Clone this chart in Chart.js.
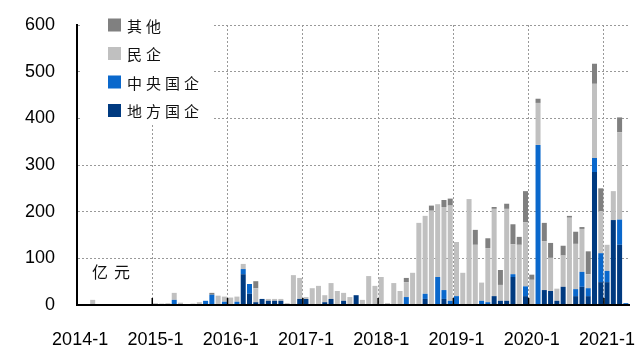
<!DOCTYPE html>
<html>
<head>
<meta charset="utf-8">
<script src="https://cdn.jsdelivr.net/npm/chart.js@4.4.0/dist/chart.umd.min.js"></script>
<style>
    html, body { margin: 0; padding: 0; background: #fff; }
</style>
</head>
<body>
<canvas id="grafica" width="637" height="345"></canvas>
<script>
// Meses: 2014-1 hasta 2021-4
var anios = [2014, 2015, 2016, 2017, 2018, 2019, 2020, 2021];
var mesesUltimoAnio = 4;

// Valores mensuales (亿元)
var difangGuoqi = [
    0, 0, 0, 0, 0, 0, 0, 0, 0, 0, 0, 0,
    0, 0, 0, 0, 0, 0, 0, 2, 0, 0, 0, 0,
    0, 0, 66, 24, 6, 13, 9, 9, 9, 0, 0, 13,
    13, 0, 0, 6, 13, 0, 9, 0, 21, 0, 0, 0,
    2, 0, 0, 0, 0, 0, 0, 13, 2, 2, 13, 0,
    0, 0, 0, 0, 0, 0, 19, 9, 9, 60, 0, 19,
    0, 0, 32, 30, 9, 39, 2, 19, 39, 19, 285, 49,
    49, 182, 129, 0
];
var zhongyangGuoqi = [
    0, 0, 0, 0, 0, 0, 0, 0, 0, 0, 0, 0,
    0, 0, 0, 11, 0, 0, 0, 0, 9, 22, 0, 7,
    0, 7, 11, 21, 0, 0, 0, 0, 0, 0, 0, 0,
    0, 0, 0, 0, 0, 0, 0, 0, 0, 0, 0, 0,
    0, 0, 0, 0, 17, 0, 0, 11, 0, 58, 19, 9,
    19, 0, 0, 0, 9, 6, 0, 0, 0, 6, 0, 21,
    0, 343, 0, 0, 0, 0, 0, 15, 32, 17, 30, 62,
    24, 0, 54, 4
];
var minqi = [
    0, 0, 11, 0, 0, 0, 0, 0, 0, 0, 0, 0,
    0, 3, 0, 15, 5, 0, 3, 4, 0, 0, 20, 11,
    16, 11, 11, 0, 30, 0, 4, 4, 4, 4, 64, 45,
    4, 36, 41, 15, 34, 30, 17, 17, 0, 11, 62, 41,
    58, 4, 47, 30, 32, 69, 176, 167, 200, 156, 178, 204,
    116, 69, 227, 129, 39, 116, 187, 34, 197, 64, 129, 137,
    54, 90, 105, 71, 26, 67, 185, 97, 92, 30, 159, 90,
    56, 62, 187, 0
];
var qita = [
    0, 0, 0, 0, 0, 0, 0, 0, 0, 0, 0, 0,
    3, 0, 3, 0, 0, 0, 0, 0, 0, 4, 0, 0,
    0, 0, 0, 0, 15, 0, 0, 0, 0, 0, 0, 0,
    0, 0, 0, 0, 0, 0, 0, 0, 0, 0, 0, 0,
    0, 0, 0, 0, 9, 0, 0, 0, 11, 0, 15, 15,
    0, 0, 0, 32, 0, 21, 4, 32, 11, 43, 17, 67,
    11, 9, 39, 32, 0, 21, 4, 26, 4, 49, 43, 49,
    0, 0, 32, 0
];

var nombres = ["地方国企", "中央国企", "民企", "其他"];
var colores = ["#003a80", "#0a68cc", "#c0c0c0", "#808080"];
var unidad = "亿元";

var etiquetas = [];
for (var a = 0; a < anios.length; a++) {
    var nMeses = (a === anios.length - 1) ? mesesUltimoAnio : 12;
    for (var m = 1; m <= nMeses; m++) {
        etiquetas.push(anios[a] + "-" + m);
    }
}

var fuenteNum = "'Liberation Sans', Arial, sans-serif";
var fuenteCJK = "'Noto Sans CJK SC', sans-serif";

// Fondo blanco de la leyenda, marcas del eje, leyenda y unidad
var extras = {
    id: "extras",
    beforeDatasetsDraw: function (chart) {
        var ctx = chart.ctx;
        var area = chart.chartArea;
        ctx.save();
        ctx.fillStyle = "#fff";
        ctx.fillRect(area.left + 3, 0, 133, 124);
        ctx.restore();
    },
    afterDraw: function (chart) {
        var ctx = chart.ctx;
        var area = chart.chartArea;
        var x = chart.scales.x;

        ctx.save();
        // marcas pequenas en cada enero
        ctx.strokeStyle = "#000";
        ctx.lineWidth = 1.5;
        ctx.beginPath();
        for (var i = 12; i < etiquetas.length; i += 12) {
            var px = (x.getPixelForValue(i) + x.getPixelForValue(i - 1)) / 2;
            ctx.moveTo(px, area.bottom);
            ctx.lineTo(px, area.bottom - 7);
        }
        ctx.stroke();

        // leyenda (orden inverso: 其他 arriba)
        ctx.font = "15px " + fuenteCJK;
        ctx.letterSpacing = "4px";
        ctx.textBaseline = "middle";
        ctx.textAlign = "left";
        var datasets = chart.data.datasets;
        for (var k = 0; k < datasets.length; k++) {
            var ds = datasets[datasets.length - 1 - k];
            var cy = area.top + k * 28.5;
            ctx.fillStyle = ds.backgroundColor;
            ctx.fillRect(area.left + 31, cy - 6.5, 13, 13);
            ctx.fillStyle = "#111";
            ctx.fillText(ds.label, area.left + 50, cy + 1);
        }

        // unidad
        ctx.font = "16px " + fuenteCJK;
        ctx.letterSpacing = "6px";
        ctx.fillText(unidad, area.left + 15, area.bottom - 33);
        ctx.restore();
    }
};

var grafica = new Chart(document.getElementById("grafica"), {
    type: "bar",
    data: {
        labels: etiquetas,
        datasets: [
            { label: nombres[0], data: difangGuoqi, backgroundColor: colores[0] },
            { label: nombres[1], data: zhongyangGuoqi, backgroundColor: colores[1] },
            { label: nombres[2], data: minqi, backgroundColor: colores[2] },
            { label: nombres[3], data: qita, backgroundColor: colores[3] }
        ]
    },
    options: {
        responsive: false,
        animation: false,
        datasets: {
            bar: { barPercentage: 0.8, categoryPercentage: 1.0, borderWidth: 0 }
        },
        layout: { padding: { top: 25, right: 8, bottom: 0, left: 0 } },
        plugins: {
            legend: { display: false },
            tooltip: { enabled: false }
        },
        scales: {
            x: {
                stacked: true,
                grid: {
                    offset: true,
                    drawTicks: false,
                    lineWidth: 1,
                    color: function (c) {
                        return (c.index > 0 && c.index % 12 === 0) ? "#999" : "rgba(0,0,0,0)";
                    }
                },
                border: { color: "#000", width: 2, z: 1, dash: [2, 2] },
                ticks: {
                    autoSkip: false,
                    maxRotation: 0,
                    minRotation: 0,
                    padding: 24,
                    color: "#000",
                    font: { family: fuenteNum, size: 18 },
                    callback: function (v, i) {
                        return i % 12 === 0 ? this.getLabelForValue(v) : "";
                    }
                },
                // alto fijo del eje x sin relleno lateral
                afterFit: function (s) {
                    s.height = 40;
                    s.paddingLeft = 0;
                    s.paddingRight = 0;
                }
            },
            y: {
                stacked: true,
                min: 0,
                max: 600,
                grid: {
                    drawTicks: false,
                    lineWidth: 1,
                    color: function (c) {
                        return c.tick && c.tick.value === 0 ? "rgba(0,0,0,0)" : "#999";
                    }
                },
                border: { color: "#000", width: 2, z: 1, dash: [2, 2] },
                ticks: {
                    stepSize: 100,
                    padding: 22,
                    color: "#000",
                    font: { family: fuenteNum, size: 18 }
                },
                // ancho fijo del eje y sin relleno extra arriba/abajo
                afterFit: function (s) {
                    s.width = 77;
                    s.paddingTop = 0;
                    s.paddingBottom = 0;
                }
            }
        }
    },
    plugins: [extras]
});
</script>
</body>
</html>
